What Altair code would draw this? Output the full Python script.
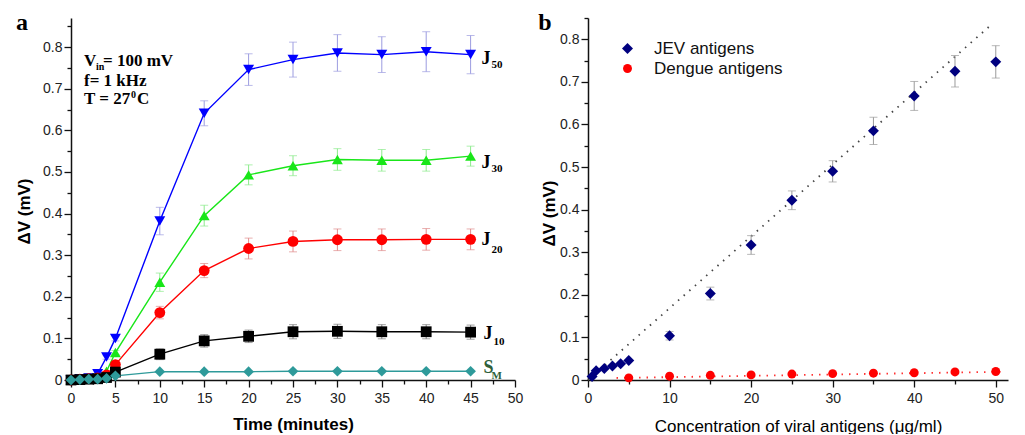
import altair as alt
import pandas as pd

# ---------------- Panel a data ----------------
time_min = [0, 1, 2, 3, 4, 5, 10, 15, 20, 25, 30, 35, 40, 45]
j50 = [0.000, 0.003, 0.005, 0.015, 0.055, 0.100, 0.382, 0.641, 0.746, 0.770, 0.786, 0.782, 0.789, 0.782]
j50_err = [0.0, 0.0, 0.0, 0.003, 0.005, 0.006, 0.033, 0.030, 0.038, 0.042, 0.044, 0.043, 0.048, 0.046]
j30 = [0.000, 0.002, 0.003, 0.006, 0.021, 0.066, 0.235, 0.395, 0.493, 0.515, 0.530, 0.528, 0.528, 0.538]
j30_err = [0.0, 0.0, 0.0, 0.0, 0.003, 0.005, 0.022, 0.025, 0.024, 0.024, 0.026, 0.026, 0.026, 0.024]
j20 = [0.000, 0.002, 0.003, 0.005, 0.012, 0.037, 0.162, 0.263, 0.316, 0.333, 0.337, 0.337, 0.338, 0.338]
j20_err = [0.0, 0.0, 0.0, 0.0, 0.003, 0.005, 0.015, 0.017, 0.025, 0.025, 0.026, 0.026, 0.026, 0.025]
j10 = [0.000, 0.001, 0.002, 0.003, 0.006, 0.019, 0.062, 0.094, 0.105, 0.116, 0.117, 0.116, 0.116, 0.115]
j10_err = [0.0, 0.0, 0.0, 0.0, 0.002, 0.003, 0.013, 0.015, 0.015, 0.017, 0.017, 0.017, 0.017, 0.017]
sm = [0.000, 0.001, 0.002, 0.002, 0.004, 0.010, 0.020, 0.020, 0.020, 0.021, 0.021, 0.021, 0.021, 0.021]
sm_err = [0.0, 0.0, 0.0, 0.0, 0.0, 0.0, 0.003, 0.003, 0.003, 0.003, 0.003, 0.003, 0.003, 0.003]

series_a = ["J50", "J30", "J20", "J10", "SM"]
colors_a = ["#0000FF", "#19E619", "#FF0000", "#000000", "#2E9A9A"]
err_colors_a = ["#9C9CE0", "#8CEB8C", "#E08C8C", "#7A7A7A", "#86C4C4"]
shapes_a = ["triangle-down", "triangle-up", "circle", "square", "diamond"]
sizes_a = [120, 115, 95, 60, 95]

# ---------------- Panel b data ----------------
conc_jev = [0.5, 1, 2, 3, 4, 5, 10, 15, 20, 25, 30, 35, 40, 45, 50]
jev = [0.008, 0.022, 0.027, 0.033, 0.038, 0.046, 0.104, 0.203, 0.317, 0.422, 0.490, 0.585, 0.667, 0.725, 0.747]
jev_err = [0.002, 0.003, 0.003, 0.003, 0.003, 0.004, 0.010, 0.015, 0.022, 0.022, 0.025, 0.032, 0.034, 0.037, 0.038]
conc_den = [5, 10, 15, 20, 25, 30, 35, 40, 45, 50]
den = [0.005, 0.009, 0.011, 0.012, 0.014, 0.015, 0.016, 0.017, 0.019, 0.020]
den_err = [0.002, 0.002, 0.002, 0.002, 0.002, 0.002, 0.002, 0.002, 0.002, 0.002]
fit_jev_x = [0.0, 49.5]
fit_jev_y = [0.0, 0.835]
fit_den_x = [3.5, 51.3]
fit_den_y = [0.0047, 0.0195]

series_b = ["JEV antigens", "Dengue antigens"]
colors_b = ["#00007F", "#FF0000"]
shapes_b = ["diamond", "circle"]
sizes_b = [120, 80]

# tick positions
xa_ticks = [0, 2.5, 5, 7.5, 10, 12.5, 15, 17.5, 20, 22.5, 25, 27.5, 30, 32.5, 35, 37.5, 40, 42.5, 45, 47.5, 50]
xb_ticks = [0, 5, 10, 15, 20, 25, 30, 35, 40, 45, 50]
y_ticks = [0, 0.05, 0.1, 0.15, 0.2, 0.25, 0.3, 0.35, 0.4, 0.45, 0.5, 0.55, 0.6, 0.65, 0.7, 0.75, 0.8, 0.85]

SANS = "Liberation Sans"
SERIF = "Liberation Serif"

# ---------------- build tables ----------------
vals_a = [j50, j30, j20, j10, sm]
errs_a = [j50_err, j30_err, j20_err, j10_err, sm_err]
rows = []
for name, vals, errs in zip(series_a, vals_a, errs_a):
    for t, v, e in zip(time_min, vals, errs):
        rows.append({"series": name, "t": t, "v": v, "lo": v - e, "hi": v + e, "e": e})
df_a = pd.DataFrame(rows)
df_a_err = df_a[df_a["e"] > 0.0045]

rows_b = []
for t, v, e in zip(conc_jev, jev, jev_err):
    rows_b.append({"series": "JEV antigens", "c": t, "v": v, "lo": v - e, "hi": v + e, "e": e})
for t, v, e in zip(conc_den, den, den_err):
    rows_b.append({"series": "Dengue antigens", "c": t, "v": v, "lo": v - e, "hi": v + e, "e": e})
df_b = pd.DataFrame(rows_b)
df_b_err = df_b[df_b["e"] > 0.0045]
df_fit_jev = pd.DataFrame({"c": fit_jev_x, "v": fit_jev_y})
df_fit_den = pd.DataFrame({"c": fit_den_x, "v": fit_den_y})

# ---------------- axes ----------------
major_y = "abs(datum.value*10 - round(datum.value*10)) < 0.001"
y_label_expr = ("abs(datum.value*10 - round(datum.value*10)) < 0.001 ? "
                "(datum.value == 0 ? '0' : format(datum.value, '.1f')) : ''")


def y_axis(title_x, title_y):
    return alt.Axis(values=y_ticks, labelExpr=y_label_expr,
                    tickSize={"condition": {"test": major_y, "value": 7}, "value": 4},
                    labelPadding=2, labelOverlap=False, labelFlush=False,
                    title="ΔV (mV)", titleX=title_x, titleY=title_y,
                    titleFontWeight="bold")


xa_axis = alt.Axis(values=xa_ticks,
                   labelExpr="datum.value % 5 == 0 ? format(datum.value, 'd') : ''",
                   tickSize={"condition": {"test": "datum.value % 5 == 0", "value": 7}, "value": 4},
                   labelPadding=4, labelOverlap=False, labelFlush=False,
                   title="Time (minutes)", titleY=49, titleBaseline="alphabetic",
                   titleFontWeight="bold")
xb_axis = alt.Axis(values=xb_ticks,
                   labelExpr="datum.value % 10 == 0 ? format(datum.value, 'd') : ''",
                   tickSize={"condition": {"test": "datum.value % 10 == 0", "value": 7}, "value": 4},
                   labelPadding=4, labelOverlap=False, labelFlush=False,
                   title="Concentration of viral antigens (μg/ml)", titleY=51,
                   titleBaseline="alphabetic", titleFontWeight="normal")

ya_axis = y_axis(-38, 193)
yb_axis = y_axis(-30, 195)

xa_scale = alt.Scale(domain=[0, 50], nice=False)
ya_scale = alt.Scale(domain=[0, 0.87], nice=False)
xb_scale = alt.Scale(domain=[0, 51.5], nice=False)
yb_scale = alt.Scale(domain=[0, 0.85], nice=False)

XA = lambda f: alt.X(f"{f}:Q", scale=xa_scale, axis=xa_axis)
YA = lambda f: alt.Y(f"{f}:Q", scale=ya_scale, axis=ya_axis)
XB = lambda f: alt.X(f"{f}:Q", scale=xb_scale, axis=xb_axis)
YB = lambda f: alt.Y(f"{f}:Q", scale=yb_scale, axis=yb_axis)

# ---------------- panel a ----------------
col_a = alt.Color("series:N", scale=alt.Scale(domain=series_a, range=colors_a), legend=None)

err_layers = []
for name, ecol in zip(series_a, err_colors_a):
    d = df_a_err[df_a_err["series"] == name]
    err_layers.append(alt.Chart(d).mark_rule(strokeWidth=1, color=ecol).encode(
        x=XA("t"), y=YA("lo"), y2="hi"))
    err_layers.append(alt.Chart(d).mark_tick(orient="horizontal", size=8, thickness=1, color=ecol).encode(
        x=XA("t"), y=YA("lo")))
    err_layers.append(alt.Chart(d).mark_tick(orient="horizontal", size=8, thickness=1, color=ecol).encode(
        x=XA("t"), y=YA("hi")))

lines_a = alt.Chart(df_a).mark_line(strokeWidth=1.4).encode(
    x=XA("t"), y=YA("v"), color=col_a, detail="series:N", order="t:Q")
points_a = alt.Chart(df_a).mark_point(filled=True, opacity=1).encode(
    x=XA("t"), y=YA("v"), color=col_a,
    shape=alt.Shape("series:N", scale=alt.Scale(domain=series_a, range=shapes_a), legend=None),
    size=alt.Size("series:N", scale=alt.Scale(domain=series_a, range=sizes_a), legend=None))

label_main = ["J", "J", "J", "J", "S"]
label_sub = ["50", "30", "20", "10", "M"]
label_dy = [4, 7, 1, 2, -3]
sub_dy = [10, 13, 11, 10, 5]
label_dx = [11, 11, 11, 13, 13]
sub_dx = [21, 21, 21, 23, 21]
label_color = ["#000000", "#000000", "#000000", "#000000", "#2F5F3A"]

label_layers = []
last = df_a[df_a["t"] == 45]
for i, name in enumerate(series_a):
    d = last[last["series"] == name]
    label_layers.append(alt.Chart(d).mark_text(
        text=label_main[i], align="left", baseline="middle", dx=label_dx[i], dy=label_dy[i],
        font=SERIF, fontSize=18, fontWeight="bold", color=label_color[i]).encode(x=XA("t"), y=YA("v")))
    label_layers.append(alt.Chart(d).mark_text(
        text=label_sub[i], align="left", baseline="middle", dx=sub_dx[i], dy=sub_dy[i],
        font=SERIF, fontSize=11, fontWeight="bold", color=label_color[i]).encode(x=XA("t"), y=YA("v")))

one = pd.DataFrame({"k": [0]})


def note(txt, x, y, size=17, font=SERIF, weight="bold", align="left", color="#000"):
    return alt.Chart(one).mark_text(text=txt, align=align, baseline="middle", font=font,
                                    fontSize=size, fontWeight=weight, color=color).encode(
        x=alt.value(x), y=alt.value(y))


notes_a = [
    note("V", 13, 43),
    note("in", 25, 49, size=10),
    note("= 100 mV", 32, 43),
    note("f= 1 kHz", 13, 63),
    note("T = 27", 13, 81),
    note("0", 60, 77, size=10),
    note("C", 66, 81),
    alt.Chart(one).mark_text(text="a", align="center", baseline="alphabetic", font=SERIF,
                             fontSize=24, fontWeight="bold").encode(x=alt.value(-49), y=alt.value(12)),
]

panel_a = alt.layer(*err_layers, lines_a, points_a, *label_layers, *notes_a).properties(
    width=444, height=362)

# ---------------- panel b ----------------
leg_b = alt.Legend(orient="none", legendX=31, legendY=22, title=None,
                   labelFont=SANS, labelFontSize=17, labelColor="#111",
                   symbolSize=130, rowPadding=2, labelOffset=18, padding=0,
                   symbolStrokeWidth=0)
col_b = alt.Color("series:N", scale=alt.Scale(domain=series_b, range=colors_b), legend=leg_b)
shape_b = alt.Shape("series:N", scale=alt.Scale(domain=series_b, range=shapes_b), legend=leg_b)
size_b = alt.Size("series:N", scale=alt.Scale(domain=series_b, range=sizes_b), legend=None)

fit_jev_l = alt.Chart(df_fit_jev).mark_line(color="#444444", strokeWidth=1.8, strokeDash=[1.5, 6]).encode(
    x=XB("c"), y=YB("v"))
fit_den_l = alt.Chart(df_fit_den).mark_line(color="#FF3333", strokeWidth=1.8, strokeDash=[1.5, 6]).encode(
    x=XB("c"), y=YB("v"))
err_b = alt.Chart(df_b_err).mark_rule(strokeWidth=1, color="#9A9A9A").encode(x=XB("c"), y=YB("lo"), y2="hi")
cap_lo_b = alt.Chart(df_b_err).mark_tick(orient="horizontal", size=8, thickness=1, color="#9A9A9A").encode(
    x=XB("c"), y=YB("lo"))
cap_hi_b = alt.Chart(df_b_err).mark_tick(orient="horizontal", size=8, thickness=1, color="#9A9A9A").encode(
    x=XB("c"), y=YB("hi"))
points_b = alt.Chart(df_b).mark_point(filled=True, opacity=1).encode(
    x=XB("c"), y=YB("v"), color=col_b, shape=shape_b, size=size_b)
label_b = alt.Chart(one).mark_text(text="b", align="center", baseline="alphabetic", font=SERIF,
                                   fontSize=24, fontWeight="bold").encode(x=alt.value(-43), y=alt.value(12))

panel_b = alt.layer(fit_jev_l, fit_den_l, err_b, cap_lo_b, cap_hi_b, points_b, label_b).properties(
    width=420, height=362)

chart = alt.hconcat(panel_a, panel_b, spacing=15).resolve_scale(
    color="independent", shape="independent", size="independent"
).properties(
    padding={"left": 7, "top": 3, "right": 0, "bottom": 0}
).configure_view(stroke=None).configure_axis(
    labelFont=SANS, labelFontSize=14, labelColor="#222222",
    titleFont=SANS, titleFontSize=17, titleColor="#000000",
    domainColor="#111111", domainWidth=1.5, tickColor="#111111", tickWidth=1.3, grid=False
)

chart.save("out.html", embed_options={"renderer": "svg", "actions": False})
